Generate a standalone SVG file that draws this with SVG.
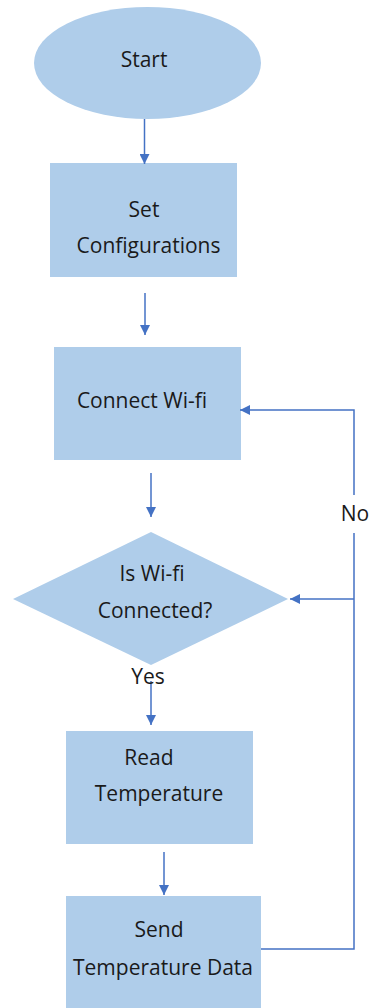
<svg xmlns="http://www.w3.org/2000/svg" width="371" height="1008" viewBox="0 0 371 1008">
<style>
.n{fill:#AFCDEA;stroke:none}
.t{font-family:"Open Sans","Liberation Sans",sans-serif;font-size:21px;fill:#1a1a1a;text-anchor:middle;dominant-baseline:central}
.c{stroke:#4472C4;stroke-width:1.5;fill:none}
</style>
<defs>
<marker id="ah" viewBox="0 0 10 10" refX="10" refY="5" markerWidth="10" markerHeight="10" markerUnits="userSpaceOnUse" orient="auto">
<path d="M0,0 L10,5 L0,10 Z" fill="#4472C4"/>
</marker>
</defs>
<rect width="371" height="1008" fill="#fff"/>
<g id="start"><ellipse class="n" cx="147.5" cy="63" rx="113.5" ry="56"/><text class="t" x="144" y="59">Start</text></g>
<g id="setcfg"><rect class="n" x="50" y="163" width="187" height="114"/><text class="t" x="144" y="209">Set</text><text class="t" x="148.5" y="245">Configurations</text></g>
<g id="connect"><rect class="n" x="54" y="347" width="187" height="113"/><text class="t" x="142" y="400">Connect Wi-fi</text></g>
<g id="decision"><polygon class="n" points="151,532 288,599 151,665 13,599"/><text class="t" x="152" y="573">Is Wi-fi</text><text class="t" x="155" y="610">Connected?</text></g>
<g id="read"><rect class="n" x="66" y="731" width="187" height="113"/><text class="t" x="149" y="757">Read</text><text class="t" x="159" y="793">Temperature</text></g>
<g id="send"><rect class="n" x="66" y="896" width="195" height="120"/><text class="t" x="159" y="929">Send</text><text class="t" x="163" y="967">Temperature Data</text></g>
<g id="connectors">
<path class="c" d="M144.5,119 V164" marker-end="url(#ah)"/>
<path class="c" d="M145,293 V335" marker-end="url(#ah)"/>
<path class="c" d="M151,473 V517" marker-end="url(#ah)"/>
<path class="c" d="M151,681 V725" marker-end="url(#ah)"/>
<path class="c" d="M164,852 V895" marker-end="url(#ah)"/>
<path class="c" d="M261,949 H354 V533"/>
<path class="c" d="M354,495 V410 H240" marker-end="url(#ah)"/>
<path class="c" d="M354,599 H290" marker-end="url(#ah)"/>
<text class="t" x="355" y="513">No</text>
<text class="t" x="148" y="676">Yes</text>
</g>
</svg>
